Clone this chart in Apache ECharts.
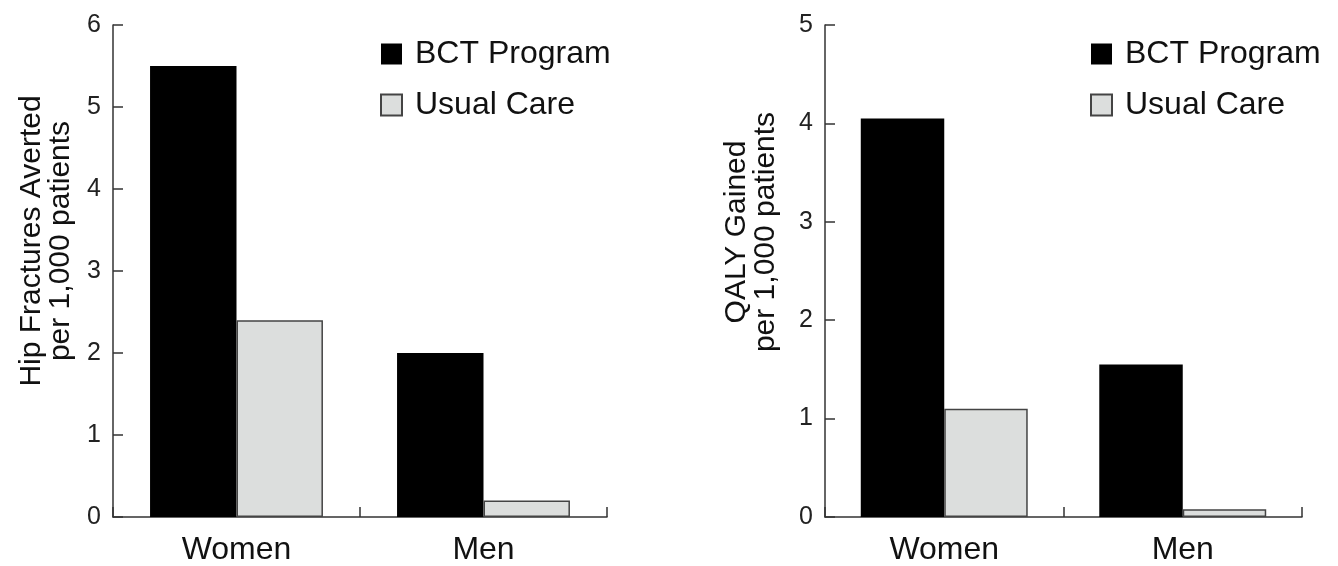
<!DOCTYPE html>
<html>
<head>
<meta charset="utf-8">
<script src="https://cdn.jsdelivr.net/npm/echarts@6/dist/echarts.min.js"></script>
<style>html,body{margin:0;padding:0;background:#fff;}#c{width:1338px;height:566px;}</style>
</head>
<body>
<div id="c"></div>
<script>
var categories = ['Women', 'Men'];
var seriesNames = ['BCT Program', 'Usual Care'];
var hipBCT = [5.5, 2.0];
var hipUsual = [2.4, 0.2];
var qalyBCT = [4.05, 1.55];
var qalyUsual = [1.1, 0.08];
var leftTicks = {min: 0, max: 6, interval: 1};
var rightTicks = {min: 0, max: 5, interval: 1};

var FONT = '"Liberation Sans", Arial, Helvetica, sans-serif';
var AX = '#333';

function xAx(gi) {
  return {
    type: 'category', gridIndex: gi, data: categories, boundaryGap: true,
    axisLine: {show: true, lineStyle: {color: AX, width: 1.5}},
    axisTick: {show: true, alignWithLabel: false, interval: 0, inside: true, length: 10, lineStyle: {color: AX, width: 1.5}},
    axisLabel: {fontSize: 32, color: '#111', margin: 17, fontFamily: FONT}
  };
}
function yAx(gi, t, name, gap, pad) {
  return {
    type: 'value', gridIndex: gi, min: t.min, max: t.max, interval: t.interval,
    name: name, nameLocation: 'middle', nameGap: gap,
    nameTextStyle: {fontSize: 30, lineHeight: 29, color: '#111', fontFamily: FONT, padding: [0, 0, 0, pad]},
    axisLine: {show: true, lineStyle: {color: AX, width: 1.5}},
    axisTick: {show: true, inside: true, length: 10, lineStyle: {color: AX, width: 1.5}},
    axisLabel: {fontSize: 25, color: '#222', margin: 12, fontFamily: FONT},
    splitLine: {show: false}
  };
}
var bctStyle = {color: '#000000', borderColor: '#000000', borderWidth: 0};
var usualStyle = {color: '#dcdedd', borderColor: '#444444', borderWidth: 1.5};

function legend(left) {
  return {
    orient: 'vertical', left: left, top: 33, itemWidth: 21, itemHeight: 21, itemGap: 19,
    icon: 'rect',
    data: seriesNames, textStyle: {fontSize: 32, color: '#111', fontFamily: FONT, padding: [0, 0, 0, 8]},
    selectedMode: false
  };
}

var option = {
  backgroundColor: '#fff',
  animation: false,
  textStyle: {fontFamily: FONT},
  legend: [legend(375), legend(1085)],
  grid: [
    {left: 113, right: 731, top: 25, bottom: 47},
    {left: 825, right: 36, top: 25, bottom: 49}
  ],
  xAxis: [xAx(0), xAx(1)],
  yAxis: [
    yAx(0, leftTicks, 'Hip Fractures Averted\nper 1,000 patients', 38, 60),
    yAx(1, rightTicks, 'QALY Gained\nper 1,000 patients', 45, 78)
  ],
  series: [
    {name: seriesNames[0], type: 'bar', xAxisIndex: 0, yAxisIndex: 0, data: hipBCT, barWidth: '35%', barGap: '0%', itemStyle: bctStyle},
    {name: seriesNames[1], type: 'bar', xAxisIndex: 0, yAxisIndex: 0, data: hipUsual, barWidth: '35%', barGap: '0%', itemStyle: usualStyle},
    {name: seriesNames[0], type: 'bar', xAxisIndex: 1, yAxisIndex: 1, data: qalyBCT, barWidth: '35%', barGap: '0%', itemStyle: bctStyle},
    {name: seriesNames[1], type: 'bar', xAxisIndex: 1, yAxisIndex: 1, data: qalyUsual, barWidth: '35%', barGap: '0%', itemStyle: usualStyle}
  ]
};
var chart = echarts.init(document.getElementById('c'), null, {renderer: 'canvas'});
chart.setOption(option);
</script>
</body>
</html>
